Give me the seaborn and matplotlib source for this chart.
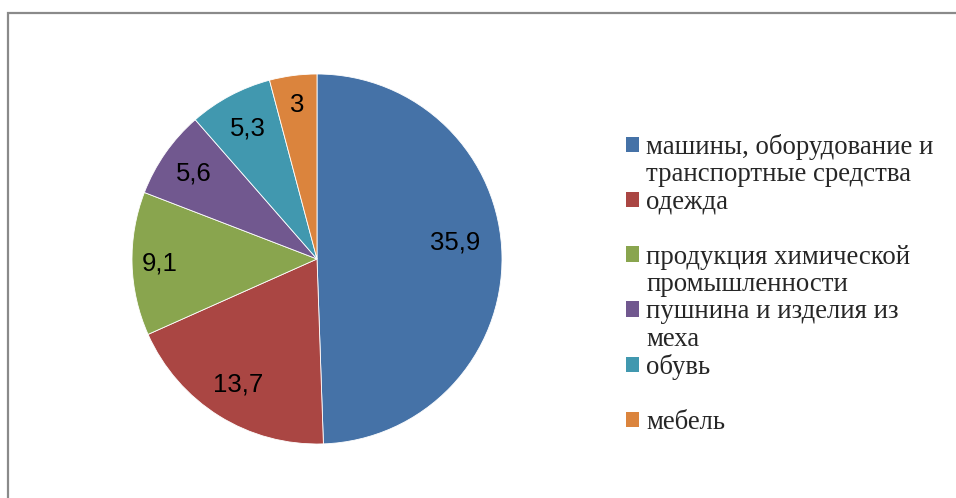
import matplotlib
matplotlib.use("Agg")
import matplotlib.pyplot as plt
from matplotlib.patches import Patch, Rectangle
import numpy as np
import seaborn as sns

# данные
categories = [
    "машины, оборудование и\nтранспортные средства",
    "одежда\n",
    "продукция химической\nпромышленности",
    "пушнина и изделия из\nмеха",
    "обувь\n",
    "мебель",
]
values = [35.9, 13.7, 9.1, 5.6, 5.3, 3]
value_labels = ["35,9", "13,7", "9,1", "5,6", "5,3", "3"]
colors = ["#4572A7", "#AA4643", "#89A54E", "#71588F", "#4198AF", "#DB843D"]

sns.set_style("white")
palette = sns.color_palette(colors)

fig = plt.figure(figsize=(9.56, 4.98), dpi=100)
W, H = 956, 498

# рамка диаграммы
fig.patches.append(Rectangle((8 / W, -0.1), 1.2, (H - 13) / H + 0.1,
                             transform=fig.transFigure, fill=False,
                             edgecolor="#8a8a8a", linewidth=1.6))

cx, cy, r = 317, 259, 185
ax = fig.add_axes([(cx - r) / W, (H - cy - r) / H, 2 * r / W, 2 * r / H])

wedges, _ = ax.pie(values, colors=palette, startangle=90, counterclock=False,
                   wedgeprops=dict(edgecolor="white", linewidth=0.6))
ax.set_xlim(-1, 1)
ax.set_ylim(-1, 1)
ax.set_aspect("equal")

# подписи значений внутри секторов (как в Excel: "по ширине")
dist = [0.75, 0.80, 0.85, 0.81, 0.80, 0.84]
shift = [6, 0, 0, 0, 0, 0]
for w, lab, d, s in zip(wedges, value_labels, dist, shift):
    ang = np.deg2rad((w.theta1 + w.theta2) / 2 + s)
    ax.text(d * np.cos(ang), d * np.sin(ang), lab, ha="center", va="center",
            fontsize=18.5, family="Liberation Sans", color="black")

# легенда: каждая строка подписи отдельной строкой
handles, labels = [], []
for c, cat in zip(palette, categories):
    lines = cat.split("\n")
    handles.append(Patch(facecolor=c, edgecolor="none"))
    labels.append(lines[0])
    for extra in lines[1:]:
        handles.append(Patch(facecolor="none", edgecolor="none"))
        labels.append(extra)

fig.legend(handles, labels, loc="upper left", bbox_to_anchor=(626 / W, 1 - 134 / H),
           frameon=False, prop={"family": "Liberation Serif", "size": 19.3},
           handlelength=0.5, handleheight=0.5, handletextpad=0.25,
           labelspacing=0.09, borderpad=0, borderaxespad=0)

fig.savefig("out.png", dpi=100, facecolor="white")
